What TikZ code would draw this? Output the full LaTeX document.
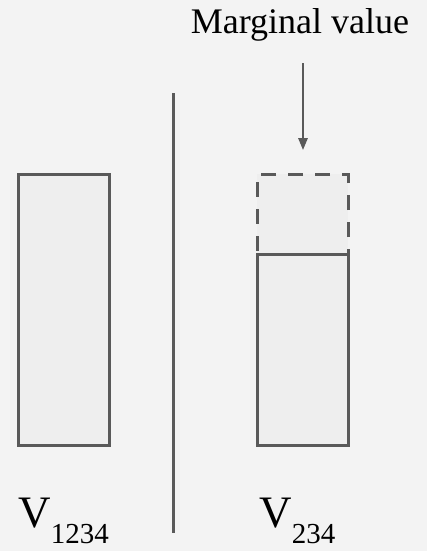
\documentclass[tikz,border=0pt]{standalone}
\usepackage{fontspec}
\setmainfont{Liberation Serif}
\usetikzlibrary{arrows.meta}
\definecolor{bgcol}{HTML}{F3F3F3}
\definecolor{boxfill}{HTML}{EEEEEE}
\definecolor{strokecol}{HTML}{595959}
\tikzset{
  barbox/.style={draw=strokecol, fill=boxfill, line width=2.25pt, inner sep=0pt, outer sep=0pt, minimum width=68.25pt},
  dashbox/.style={barbox, dash pattern=on 11.25pt off 9pt},
  divider/.style={draw=strokecol, line width=2.25pt},
  pointer/.style={draw=strokecol, line width=1.5pt, -{Triangle[length=9pt,width=7pt]}},
  biglabel/.style={inner sep=0pt, anchor=base west, font=\fontsize{33.75}{40}\selectfont},
  toplabel/.style={inner sep=0pt, anchor=base, font=\fontsize{27}{32}\selectfont}
}
\newcommand{\subnum}[1]{\raisebox{-12pt}{\fontsize{21.75}{26}\selectfont #1}}
\begin{document}
\begin{tikzpicture}[x=0.75pt,y=-0.75pt]
  \fill[bgcol] (0,0) rectangle (427,551);
  \useasboundingbox (0,0) rectangle (427,551);
  % left bar
  \node[barbox, minimum height=203.25pt] (left) at (63.5,309.5) {};
  % divider
  \coordinate (divtop) at (173.5,93);
  \coordinate (divbot) at (173.5,533);
  \draw[divider] (divtop) -- (divbot);
  % right bars
  \node[dashbox, minimum height=60pt] (marg) at (302.5,214) {};
  \node[barbox, minimum height=143.25pt] (right) at (302.5,349.5) {};
  % labels
  \node[toplabel] (mlabel) at (300,33) {Marginal value};
  \coordinate (arrtop) at (303,63);
  \coordinate (arrtip) at (303,150);
  \draw[pointer] (arrtop) -- (arrtip);
  \node[biglabel] (v1) at (18,527) {V\subnum{1234}};
  \node[biglabel] (v2) at (259,527) {V\subnum{234}};
\end{tikzpicture}
\end{document}
